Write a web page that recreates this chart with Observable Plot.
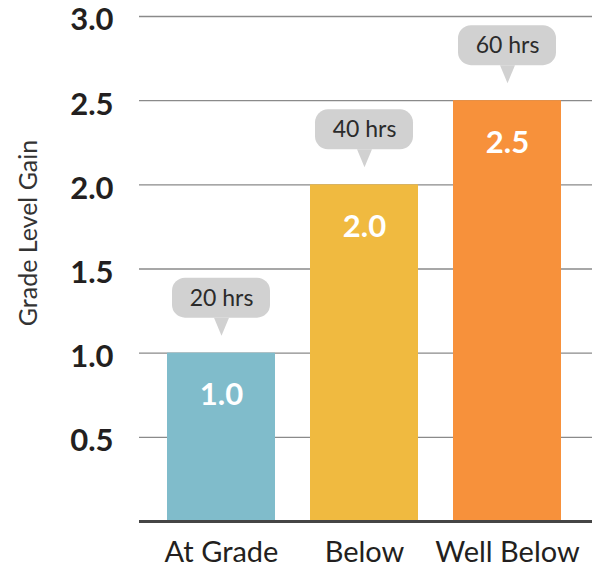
<!DOCTYPE html>
<html>
<head>
<meta charset="utf-8">
<script src="https://cdn.jsdelivr.net/npm/d3@7"></script>
<script src="https://cdn.jsdelivr.net/npm/@observablehq/plot@0.6"></script>
<style>
  html, body { margin: 0; padding: 0; background: #fff; }
</style>
</head>
<body>
<div id="chart"></div>
<script>
const categories = ["At Grade", "Below", "Well Below"];
const gains = [1.0, 2.0, 2.5];
const hours = ["20 hrs", "40 hrs", "60 hrs"];
const colors = ["#80bccb", "#f0ba40", "#f7913b"];
const yTicks = [0.5, 1.0, 1.5, 2.0, 2.5, 3.0];
const yTitle = "Grade Level Gain";

const data = categories.map((c, i) => ({cat: c, value: gains[i], hrs: hours[i]}));
const fmt = d3.format(".1f");

const chart = Plot.plot({
  width: 600,
  height: 567,
  marginLeft: 139,
  marginRight: 8,
  marginTop: 16,
  marginBottom: 46,
  style: {fontFamily: "Lato, 'Open Sans', sans-serif", background: "#fff"},
  x: {domain: categories, range: [150, 578], paddingInner: 0.245, paddingOuter: 0.119, label: null},
  y: {domain: [0, 3], label: null},
  color: {domain: categories, range: colors},
  marks: [
    Plot.ruleY(yTicks, {stroke: "#8a8a8a", strokeWidth: 1.3}),
    Plot.barY(data, {x: "cat", y: "value", fill: "cat"}),
    Plot.ruleY([0], {stroke: "#454545", strokeWidth: 3}),
    Plot.barY(data, {x: "cat", y1: "value", y2: "value", insetTop: -75, insetBottom: 35, insetLeft: 5, insetRight: 5, rx: 13, fill: "#d1d1d1"}),
    Plot.vector(data, {x: "cat", y: "value", shape: "spike", length: 18, r: 7.5, rotate: 180, anchor: "start", dy: -35.5, fill: "#d1d1d1", stroke: "none"}),
    Plot.text(data, {x: "cat", y: "value", text: "hrs", dy: -55, fontSize: 23, fill: "#2b2b2b"}),
    Plot.text(data, {x: "cat", y: "value", text: d => fmt(d.value), dy: 42, fontSize: 31, fontWeight: "bold", fill: "#fff"}),
    Plot.axisY(yTicks, {tickSize: 0, tickPadding: 26, fontSize: 31, fontWeight: "bold", tickFormat: fmt, fill: "#231f20", dy: 4, label: null}),
    Plot.axisX({tickSize: 0, tickPadding: 20, fontSize: 29, fill: "#231f20", label: null}),
    Plot.text([yTitle], {frameAnchor: "left", textAnchor: "middle", rotate: -90, dx: -111, dy: -36, fontSize: 25, fill: "#333"})
  ]
});
document.getElementById("chart").appendChild(chart);
</script>
</body>
</html>
